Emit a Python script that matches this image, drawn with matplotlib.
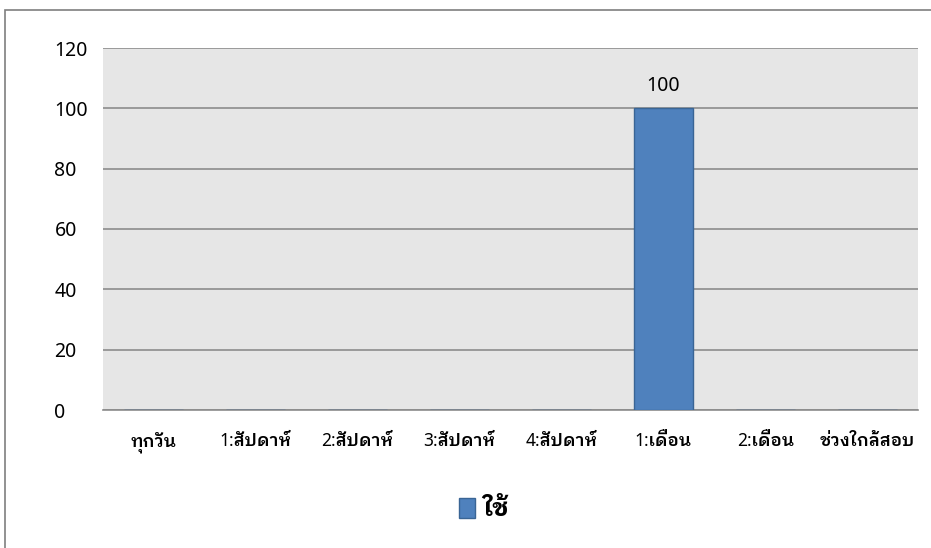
import matplotlib
matplotlib.use('Agg')
import matplotlib.pyplot as plt
from matplotlib.patches import Rectangle

# Données
categories = ['ทุกวัน', '1:สัปดาห์', '2:สัปดาห์', '3:สัปดาห์', '4:สัปดาห์',
              '1:เดือน', '2:เดือน', 'ช่วงใกล้สอบ']
values = [0, 0, 0, 0, 0, 100, 0, 0]
series_name = 'ใช้'
yticks = [0, 20, 40, 60, 80, 100, 120]

# police latine + repli pour le thaï
plt.rcParams['font.family'] = ['Noto Sans', 'IBM Plex Sans Thai Looped', 'DejaVu Sans']

fig = plt.figure(figsize=(9.31, 5.48), dpi=100)
ax = fig.add_axes([103 / 931, 1 - 410 / 548, 815 / 931, 362 / 548])
ax.set_facecolor('#e6e6e6')

x = range(len(categories))
bars = ax.bar(x, values, width=0.58, color='#4f81bd', edgecolor='#3a6595',
              linewidth=1.0, label=series_name, zorder=3)
for b, v in zip(bars, values):
    if v:
        ax.text(b.get_x() + b.get_width() / 2, v + 4, str(v), ha='center',
                va='bottom', fontsize=14)

ax.set_xlim(-0.5, len(categories) - 0.5)
ax.set_ylim(0, 120)
ax.set_yticks(yticks)
ax.set_xticks(list(x))
ax.set_xticklabels(categories, fontsize=12.5, fontweight='semibold')
ax.tick_params(axis='y', length=0, pad=35, labelsize=14)
ax.tick_params(axis='x', length=0, pad=26)
for lab in ax.get_yticklabels():
    lab.set_horizontalalignment('left')
for lab in ax.get_xticklabels():
    lab.set_verticalalignment('baseline')
ax.yaxis.grid(True, color='#8c8c8c', linewidth=1.2, zorder=1)
for s in ['top', 'right', 'left']:
    ax.spines[s].set_visible(False)
ax.spines['bottom'].set_color('#8c8c8c')
ax.spines['bottom'].set_linewidth(1.2)

fig.legend(loc='center', bbox_to_anchor=(0.52, 1 - 510 / 548), frameon=False,
           handlelength=0.65, handleheight=0.85, handletextpad=0.3,
           prop={'weight': 'bold', 'size': 18})

# cadre extérieur
fig.patches.append(Rectangle((5 / 931, -0.1), 1.2, 1 - 10 / 548 + 0.1,
                             transform=fig.transFigure, fill=False,
                             edgecolor='#7f7f7f', linewidth=1.2))

fig.savefig('out.png', dpi=100)
